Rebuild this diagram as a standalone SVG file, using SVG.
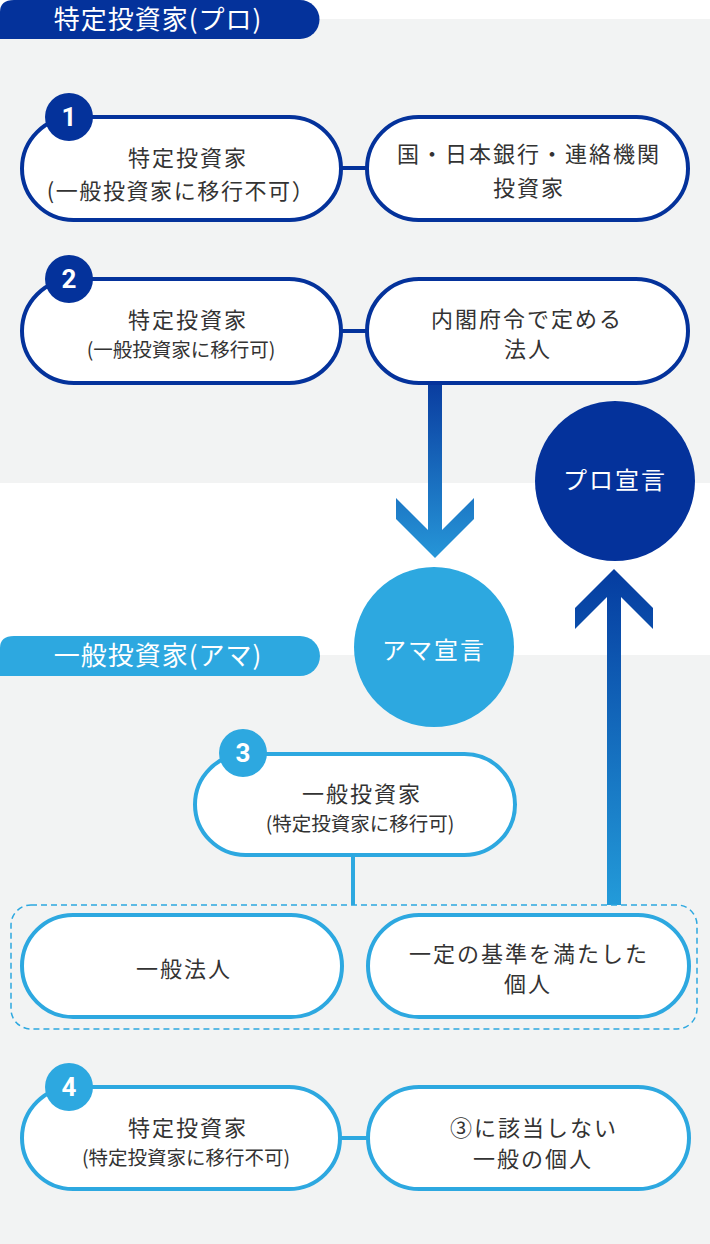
<svg xmlns="http://www.w3.org/2000/svg" width="710" height="1244" viewBox="0 0 710 1244">
<defs>
<style>
.bg{fill:#F2F3F3}
.pd{fill:#fff;stroke:#04329B;stroke-width:4}
.pl{fill:#fff;stroke:#2DA8E0;stroke-width:4}
.t{font-family:"Noto Sans CJK JP","Noto Sans",sans-serif;font-size:22px;fill:#333;text-anchor:middle;letter-spacing:2px}
.s{font-family:"Noto Sans CJK JP","Noto Sans",sans-serif;font-size:19.5px;fill:#333;text-anchor:middle;letter-spacing:0px}
.h{font-family:"Noto Sans CJK JP","Noto Sans",sans-serif;font-size:26px;fill:#fff;text-anchor:middle;letter-spacing:1px}
.c{font-family:"Noto Sans CJK JP","Noto Sans",sans-serif;font-size:24px;fill:#fff;text-anchor:middle;letter-spacing:2px}
.n{font-family:Roboto,"Liberation Sans",sans-serif;font-size:26px;font-weight:bold;fill:#fff;text-anchor:middle}
.bd{fill:#04329B}
.bl{fill:#2DA8E0}
.cd{stroke:#04329B;stroke-width:4;fill:none}
.cl{stroke:#2DA8E0;stroke-width:4;fill:none}
</style>
<linearGradient id="gDown" gradientUnits="userSpaceOnUse" x1="0" y1="384" x2="0" y2="558">
<stop offset="0" stop-color="#0A3DA0"/>
<stop offset="1" stop-color="#2696D8"/>
</linearGradient>
<linearGradient id="gUp" gradientUnits="userSpaceOnUse" x1="0" y1="569" x2="0" y2="905">
<stop offset="0" stop-color="#053CA0"/>
<stop offset="1" stop-color="#239BD9"/>
</linearGradient>
</defs>

<g id="backgrounds">
<rect class="bg" x="0" y="19" width="710" height="464"/>
<rect class="bg" x="0" y="655" width="710" height="589"/>
</g>

<g id="header-pro">
<path class="bd" d="M0,12 Q0,0 14,0 H300 A19.5,19.5 0 0 1 300,39 H0 Z"/>
<text class="h" x="158" y="29">特定投資家(プロ)</text>
</g>

<g id="header-ama">
<path class="bl" d="M0,648 Q0,636 14,636 H300 A20,20 0 0 1 300,676 H0 Z"/>
<text class="h" x="158" y="665">一般投資家(アマ)</text>
</g>

<g id="connectors">
<line class="cd" x1="341" y1="168" x2="367" y2="168"/>
<line class="cd" x1="341" y1="331" x2="367" y2="331"/>
<line class="cl" x1="341" y1="1138" x2="368" y2="1138"/>
<line class="cl" x1="353" y1="855" x2="353" y2="905"/>
<polygon fill="url(#gDown)" points="428,384 442,384 442,530 474,498 474,519 435,558 396,519 396,498 428,530"/>
<polygon fill="url(#gUp)" points="614,569 653,608 653,629 621,597 621,905 607,905 607,597 575,629 575,608"/>
</g>

<g id="node1">
<rect class="pd" x="22" y="117" width="319" height="103" rx="51.5"/>
<circle class="bd" cx="69" cy="117" r="24"/>
<text class="n" x="69" y="126">1</text>
<text class="t" x="188" y="165.5">特定投資家</text>
<text class="t" x="181" y="198.5" style="letter-spacing:1.6px">(一般投資家に移行不可）</text>
</g>

<g id="node1-right">
<rect class="pd" x="367" y="117" width="321" height="103" rx="51.5"/>
<text class="t" x="529" y="161.5">国・日本銀行・連絡機関</text>
<text class="t" x="529" y="195.5">投資家</text>
</g>

<g id="node2">
<rect class="pd" x="22" y="279" width="319" height="104" rx="52"/>
<circle class="bd" cx="69" cy="279" r="24"/>
<text class="n" x="69" y="288">2</text>
<text class="t" x="188" y="328">特定投資家</text>
<text class="s" x="181" y="356.5">(一般投資家に移行可)</text>
</g>

<g id="node2-right">
<rect class="pd" x="367" y="279" width="321" height="104" rx="52"/>
<text class="t" x="527" y="326.5">内閣府令で定める</text>
<text class="t" x="528" y="357">法人</text>
</g>

<g id="pro-declaration">
<circle class="bd" cx="615" cy="481" r="80"/>
<text class="c" x="615" y="489">プロ宣言</text>
</g>

<g id="ama-declaration">
<circle class="bl" cx="434" cy="647" r="80"/>
<text class="c" x="434" y="659">アマ宣言</text>
</g>

<g id="node3">
<rect class="pl" x="195" y="754" width="320" height="101" rx="50.5"/>
<circle class="bl" cx="243" cy="753" r="24"/>
<text class="n" x="243" y="762">3</text>
<text class="t" x="362" y="801.5">一般投資家</text>
<text class="s" x="360" y="831">(特定投資家に移行可)</text>
</g>

<g id="group-box">
<rect x="11" y="905" width="686" height="124" rx="20" fill="none" stroke="#2DA8E0" stroke-width="1.5" stroke-dasharray="6 4"/>
</g>

<g id="node-general-corp">
<rect class="pl" x="22" y="915" width="320" height="102" rx="51"/>
<text class="t" x="184" y="977">一般法人</text>
</g>

<g id="node-qualified-individual">
<rect class="pl" x="368" y="915" width="321" height="102" rx="51"/>
<text class="t" x="529" y="961.5">一定の基準を満たした</text>
<text class="t" x="528" y="992">個人</text>
</g>

<g id="node4">
<rect class="pl" x="22" y="1087" width="318" height="102" rx="51"/>
<circle class="bl" cx="69" cy="1087" r="24"/>
<text class="n" x="69" y="1096">4</text>
<text class="t" x="188" y="1135.5">特定投資家</text>
<text class="s" x="186" y="1164.5">(特定投資家に移行不可)</text>
</g>

<g id="node4-right">
<rect class="pl" x="368" y="1087" width="321" height="102" rx="51"/>
<text class="t" x="534" y="1135.5">③に該当しない</text>
<text class="t" x="533" y="1166.5">一般の個人</text>
</g>
</svg>
